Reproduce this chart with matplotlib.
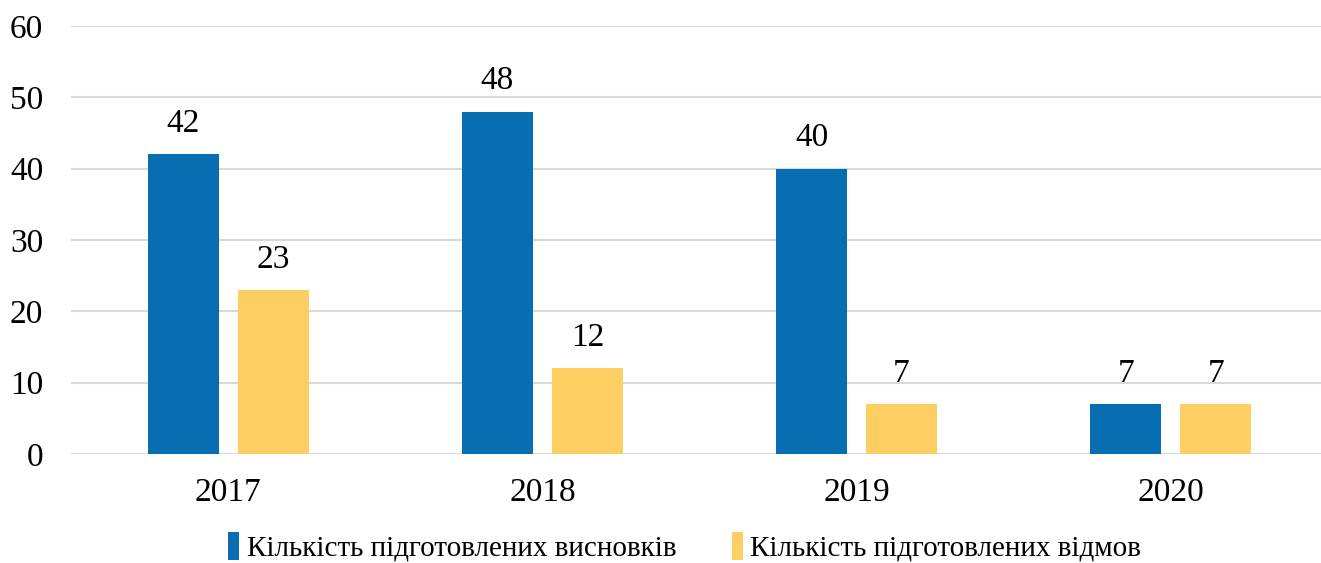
import numpy as np
from matplotlib import pyplot as plt

years = ['2017', '2018', '2019', '2020']
conclusions = [42, 48, 40, 7]
refusals = [23, 12, 7, 7]
labels = ['Кількість підготовлених висновків', 'Кількість підготовлених відмов']

plt.rcParams['font.family'] = ['Liberation Serif', 'DejaVu Serif']

fig = plt.figure(figsize=(13.21, 5.63), dpi=100)
ax = fig.add_axes([71 / 1321, 1 - 454 / 563, 1257 / 1321, 428 / 563])

x = np.arange(len(years))
off, w = 0.143, 0.226
b1 = ax.bar(x - off, conclusions, w, color='#076EB1', label=labels[0], zorder=3)
b2 = ax.bar(x + off, refusals, w, color='#FDCF62', label=labels[1], zorder=3)

for bars in (b1, b2):
    for r in bars:
        ax.annotate(str(int(r.get_height())), (r.get_x() + r.get_width() / 2, r.get_height()),
                    xytext=(0, 11), textcoords='offset points', ha='center', va='bottom', fontsize=24)

ax.set_xlim(-0.5, 3.5)
ax.set_ylim(0, 60)
ax.set_yticks(range(0, 61, 10))
ax.set_xticks(x)
ax.set_xticklabels(years)
ax.tick_params(axis='both', length=0, labelsize=24)
ax.tick_params(axis='y', pad=20)
ax.tick_params(axis='x', pad=17)
ax.grid(axis='y', color='#D9D9D9', linewidth=1.5, zorder=0)
for s in ax.spines.values():
    s.set_visible(False)

ax.legend(loc='center', bbox_to_anchor=(0.5 - 15 / 1257, -93 / 428), ncol=2, frameon=False,
          fontsize=21, handlelength=0.4, handleheight=1.1, handletextpad=0.25, columnspacing=1.9)

fig.savefig('out.png', dpi=100)
